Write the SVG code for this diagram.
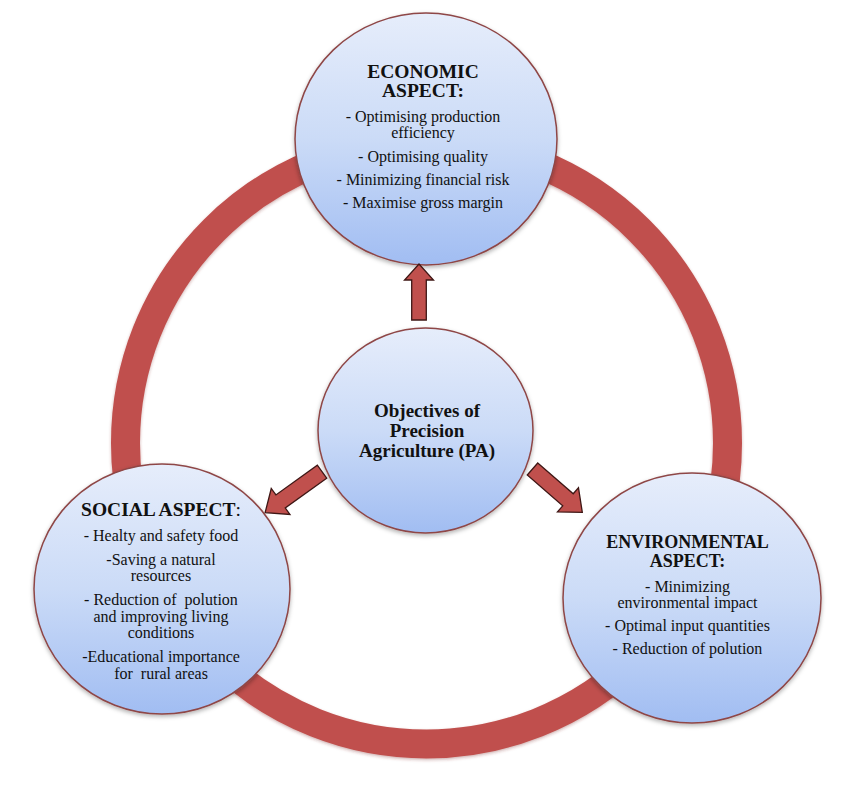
<svg xmlns="http://www.w3.org/2000/svg" width="850" height="786" viewBox="0 0 850 786">
<defs>
<linearGradient id="blueFill" x1="0" y1="0" x2="0" y2="1">
<stop offset="0" stop-color="#e6edfb"/>
<stop offset="0.5" stop-color="#cbdbf7"/>
<stop offset="1" stop-color="#a1bdf2"/>
</linearGradient>
<filter id="shadow" x="-20%" y="-20%" width="140%" height="140%">
<feDropShadow dx="0" dy="2" stdDeviation="2" flood-color="#000" flood-opacity="0.3"/>
</filter>
<filter id="glow" x="-10%" y="-10%" width="120%" height="120%">
<feDropShadow dx="0" dy="1.5" stdDeviation="1.8" flood-color="#7a2a28" flood-opacity="0.35"/>
</filter>
</defs>
<style>
.bubble{fill:url(#blueFill);stroke:#8e4646;stroke-width:1.5;filter:url(#shadow)}
.arrow{fill:#c0504d;stroke:#3e1715;stroke-width:1.3;stroke-linejoin:miter}
.head{font-family:"Liberation Serif","Times New Roman",serif;font-weight:bold;fill:#111;text-anchor:middle}
.body{font-family:"Liberation Serif","Times New Roman",serif;font-size:16px;fill:#111;text-anchor:middle}
</style>
<rect width="850" height="786" fill="#fff"/>
<g id="cycle">
<circle cx="426.5" cy="443" r="301" fill="none" stroke="#c0504d" stroke-width="29" filter="url(#glow)"/>
</g>
<g id="economic">
<ellipse class="bubble" cx="426" cy="139" rx="131" ry="126"/>
<text class="head" font-size="19.5px" x="423" y="78.3">ECONOMIC</text>
<text class="head" font-size="19.5px" x="423" y="97.3">ASPECT:</text>
<text class="body" x="423" y="121.7">- Optimising production</text>
<text class="body" x="423" y="138.3">efficiency</text>
<text class="body" x="423" y="161.7">- Optimising quality</text>
<text class="body" x="423" y="185">- Minimizing financial risk</text>
<text class="body" x="423" y="208.3">- Maximise gross margin</text>
</g>
<g id="center">
<ellipse class="bubble" cx="425.5" cy="430.5" rx="107.5" ry="102.5"/>
<text class="head" font-size="19px" x="427" y="416.7">Objectives of</text>
<text class="head" font-size="19px" x="427" y="436.7">Precision</text>
<text class="head" font-size="19px" x="427" y="457.3">Agriculture (PA)</text>
</g>
<g id="social">
<ellipse class="bubble" cx="162" cy="589" rx="128" ry="125"/>
<text class="head" font-size="19.5px" x="161" y="515.7">SOCIAL ASPECT<tspan font-weight="normal">:</tspan></text>
<text class="body" x="161" y="540.5">- Healty and safety food</text>
<text class="body" x="161" y="564.5">-Saving a natural</text>
<text class="body" x="161" y="581">resources</text>
<text class="body" x="161" y="604.5" xml:space="preserve">- Reduction of  polution</text>
<text class="body" x="161" y="621.5">and improving living</text>
<text class="body" x="161" y="638.3">conditions</text>
<text class="body" x="161" y="662">-Educational importance</text>
<text class="body" x="161" y="679" xml:space="preserve">for  rural areas</text>
</g>
<g id="environmental">
<ellipse class="bubble" cx="692" cy="598" rx="129" ry="125"/>
<text class="head" font-size="18px" x="687.5" y="548.3">ENVIRONMENTAL</text>
<text class="head" font-size="18px" x="687.5" y="567.3">ASPECT:</text>
<text class="body" x="687.5" y="591.7">- Minimizing</text>
<text class="body" x="687.5" y="608.3">environmental impact</text>
<text class="body" x="687.5" y="630.7">- Optimal input quantities</text>
<text class="body" x="687.5" y="654">- Reduction of polution</text>
</g>
<g id="connectors">
<polygon class="arrow" points="411.7,320 426.3,320 426.3,280 433.5,280 419,264 404.5,280 411.7,280"/>
<polygon class="arrow" transform="translate(322,471.7) rotate(144.3)" points="0,-8 51,-8 51,-16 70,0 51,16 51,8 0,8"/>
<polygon class="arrow" transform="translate(532.5,469) rotate(41)" points="0,-8 47,-8 47,-16 66,0 47,16 47,8 0,8"/>
</g>
</svg>
